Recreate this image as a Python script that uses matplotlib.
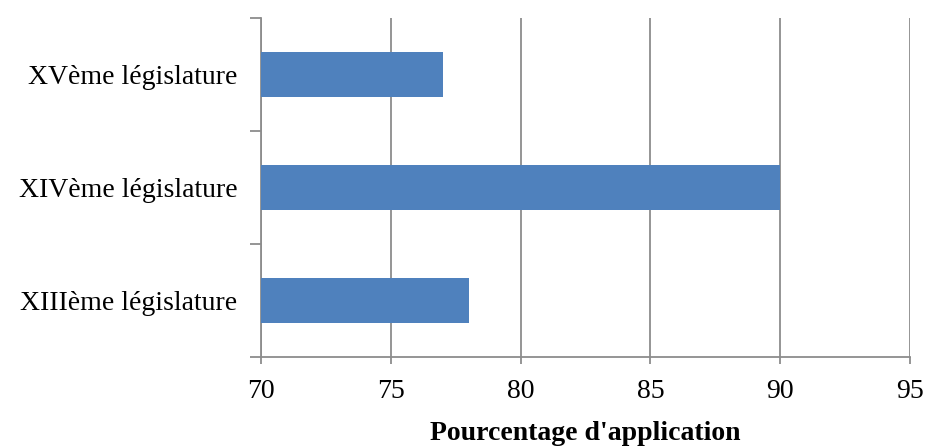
import matplotlib.pyplot as plt
import numpy as np

legislatures = ["XIIIème législature", "XIVème législature", "XVème législature"]
pourcentages = [78, 90, 77]
xticks = [70, 75, 80, 85, 90, 95]

plt.rcParams['font.family'] = ['Liberation Serif', 'DejaVu Serif']

fig = plt.figure(figsize=(9.25, 4.47), dpi=100)
ax = fig.add_axes([0.2822, 0.2013, 0.7016, 0.7584])

y = np.arange(len(legislatures))
ax.barh(y, pourcentages, height=0.4, color="#4F81BD", zorder=3)

ax.set_xlim(70, 95)
ax.set_ylim(-0.5, len(legislatures) - 0.5)
ax.set_xticks(xticks)
ax.set_xticklabels([str(v) for v in xticks], fontsize=20)
ax.grid(axis="x", color="#8c8c8c", linewidth=1.3, zorder=0)

# ticks on category boundaries, labels centered
ax.set_yticks(np.arange(-0.5, len(legislatures)), labels=[])
ax.set_yticks(y, labels=legislatures, minor=True)
ax.tick_params(axis="y", which="major", length=8, color="#8c8c8c", width=1.3)
ax.tick_params(axis="y", which="minor", length=0, labelsize=20, pad=17)
ax.tick_params(axis="x", length=5, color="#8c8c8c", width=1.3, pad=11)

for side in ["top", "right"]:
    ax.spines[side].set_visible(False)
for side in ["left", "bottom"]:
    ax.spines[side].set_color("#8c8c8c")
    ax.spines[side].set_linewidth(1.3)

ax.set_xlabel("Pourcentage d'application", fontsize=20, fontweight="bold", labelpad=12)

plt.savefig("out.png", dpi=100)
